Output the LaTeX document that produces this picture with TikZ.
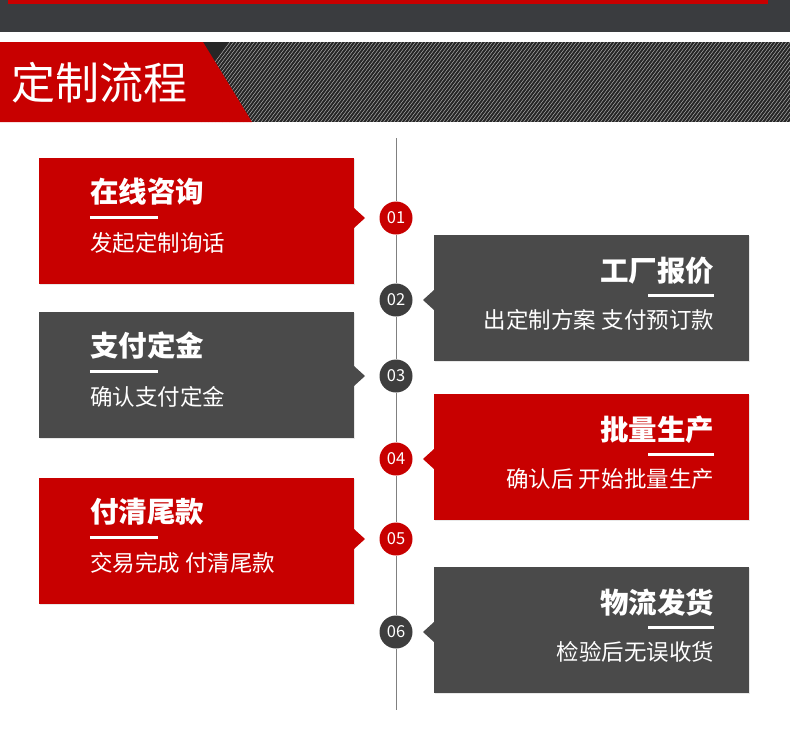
\documentclass[tikz,border=0pt]{standalone}
\usepackage{fontspec}
\setmainfont{Noto Sans CJK SC}
\usetikzlibrary{positioning,calc,shadows}
\definecolor{stepred}{HTML}{C80000}
\definecolor{stepgray}{HTML}{4A4A4A}
\definecolor{dotgray}{HTML}{3E3E3E}
\definecolor{woodgray}{HTML}{3A3C3F}
\definecolor{stripedark}{HTML}{262626}

\begin{document}
\begin{tikzpicture}[x=1pt,y=-1pt,
    stepbox/.style={minimum width=315pt, minimum height=126pt, inner sep=0pt,
      drop shadow={opacity=0.18, shadow xshift=1pt, shadow yshift=-1pt}},
    numdot/.style={circle, minimum size=33pt, inner sep=0pt, text=white,
      font=\fontsize{16.5}{16.5}\selectfont},
    steptitle/.style={text=white, inner sep=0pt, font=\bfseries\fontsize{28.5}{28.5}\selectfont},
    steptext/.style={text=white, inner sep=0pt, font=\fontsize{22.5}{22.5}\selectfont}]
  \useasboundingbox (0,0) rectangle (790,740);

  % banner strip at the top
  \fill[woodgray] (0,0) rectangle (790,32);
  \fill[stepred] (8,0) rectangle (768,4);

  % header band
  \fill[stripedark] (200,42) rectangle (790,122);
  \begin{scope}
    \clip (200,42) rectangle (790,122);
    \foreach \k in {0,3.5,...,680}
      \draw[gray!45, line width=0.4pt] (170+\k,122) -- (230+\k,42);
  \end{scope}
  \fill[stepred] (0,42) -- (203,42) -- (252,122) -- (0,122) -- cycle;
  \node[text=white, inner sep=0pt, anchor=west, font=\fontsize{44}{44}\selectfont] (header) at (11,83) {定制流程};

  % numbered dots on the time line
  \foreach \i/\cy/\col in {1/218/stepred, 2/300/dotgray, 3/376/dotgray,
                           4/459/stepred, 5/539/stepred, 6/632/dotgray} {
      \node[numdot, fill=\col] (c\i) at (396,\cy) {0\i};
    }
  \coordinate (top) at (396,138);
  \coordinate (bottom) at (396,710);
  \draw[gray] (top) -- (c1);
  \foreach \i/\j in {1/2, 2/3, 3/4, 4/5, 5/6}
    \draw[gray] (c\i) -- (c\j);
  \draw[gray] (c6) -- (bottom);

  % steps on the left
  \foreach \i/\cy/\by/\col/\ttl/\txt in {1/218/221/stepred/在线咨询/发起定制询话,
      3/376/375/stepgray/支付定金/确认支付定金,
      5/539/541/stepred/付清尾款/交易完成 付清尾款} {
      \node[stepbox, fill=\col] (box\i) at (196.5,\by) {};
      \fill[\col] (354,\cy-10) -- (365,\cy) -- (354,\cy+10) -- cycle;
      \node[steptitle, anchor=west] (title\i) at ($(box\i.west)+(51,-29)$) {\ttl};
      \draw[white, line width=3pt] ($(box\i.west)+(51,-4)$) -- ++(68,0);
      \node[steptext, anchor=west] (text\i) at ($(box\i.west)+(51,22)$) {\txt};
    }

  % steps on the right
  \foreach \i/\cy/\by/\col/\ttl/\txt in {2/300/298/stepgray/工厂报价/出定制方案 支付预订款,
      4/459/457/stepred/批量生产/确认后 开始批量生产,
      6/632/630/stepgray/物流发货/检验后无误收货} {
      \node[stepbox, fill=\col] (box\i) at (591.5,\by) {};
      \fill[\col] (434,\cy-10) -- (423,\cy) -- (434,\cy+10) -- cycle;
      \node[steptitle, anchor=east] (title\i) at ($(box\i.east)+(-35,-27)$) {\ttl};
      \draw[white, line width=3pt] ($(box\i.east)+(-35,-3)$) -- ++(-66,0);
      \node[steptext, anchor=east] (text\i) at ($(box\i.east)+(-35,22)$) {\txt};
    }
\end{tikzpicture}
\end{document}
